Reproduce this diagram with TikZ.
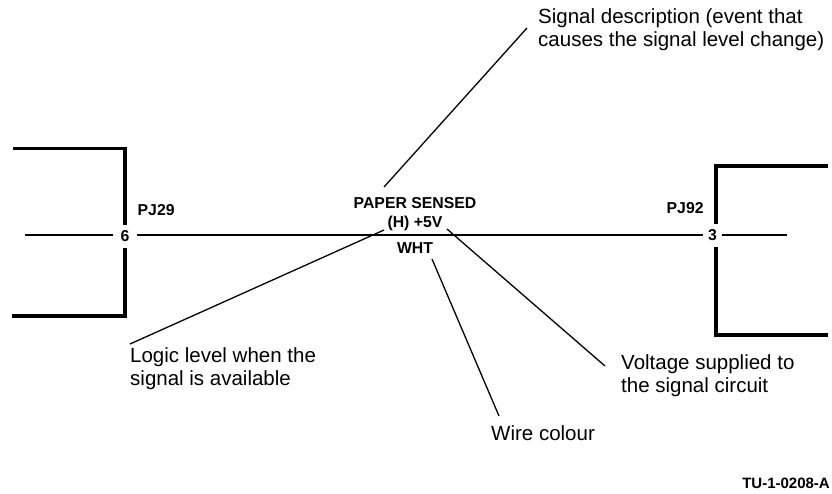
\documentclass[tikz,border=0pt]{standalone}
\usepackage{fontspec}
\setmainfont{Liberation Sans}
\tikzset{
  housing/.style={line width=3.4pt},
  wire/.style={line width=1.3pt},
  leader/.style={line width=1.3pt},
  callout/.style={anchor=west, inner sep=0pt, align=left, font=\fontsize{20.5}{23}\selectfont},
  pinlabel/.style={inner sep=0pt, font=\fontsize{15.8}{18}\selectfont\bfseries},
  pinnum/.style={pinlabel, fill=white, minimum height=23pt},
}
\begin{document}
\begin{tikzpicture}[x=1pt,y=-1pt]
  \useasboundingbox (0,0) rectangle (832,493);
  % connector housings
  \draw[housing] (13,148.5) -- (125,148.5) -- (125,316) -- (12,316);
  \draw[housing] (828,166) -- (716,166) -- (716,335) -- (828,335);
  % pin numbers sit on the housings
  \node[pinnum, minimum width=24pt] (pinsix) at (125,236) {6};
  \node[pinnum, minimum width=19pt] (pinthree) at (712.5,235) {3};
  \coordinate (wireleft) at (25,235);
  \coordinate (wireright) at (787,235);
  \draw[wire] (wireleft) -- (wireleft -| pinsix.west);
  \draw[wire] (pinsix.east |- wireleft) -- (pinthree.west |- wireleft);
  \draw[wire] (pinthree.east |- wireright) -- (wireright);
  \node[pinlabel, anchor=west] (plugleft) at (137.5,210) {PJ29};
  \node[pinlabel, anchor=west] (plugright) at (666.5,208) {PJ92};
  % labels on the wire
  \node[pinlabel] (sensed) at (415,203) {PAPER SENSED};
  \node[pinlabel] (level) at (415,223) {(H) +5V};
  \node[pinlabel] (colour) at (415,248) {WHT};
  % callouts
  \node[callout] (descr) at (538,30) {Signal description (event that\\causes the signal level change)};
  \node[callout] (logic) at (130,369) {Logic level when the\\signal is available};
  \node[callout] (volt) at (621,376) {Voltage supplied to\\the signal circuit};
  \node[callout] (wirecol) at (491,433) {Wire colour};
  \node[pinlabel, anchor=east, font=\fontsize{15}{17}\selectfont\bfseries] (tucode) at (830,483) {TU-1-0208-A};
  \coordinate (descrend) at (527,28);
  \coordinate (descrtip) at (384,187);
  \coordinate (logicend) at (130,344);
  \coordinate (logictip) at (384,230);
  \coordinate (voltend) at (605,366);
  \coordinate (volttip) at (447,229);
  \coordinate (colend) at (499,416);
  \coordinate (coltip) at (432,259);
  \draw[leader] (descrend) -- (descrtip);
  \draw[leader] (logicend) -- (logictip);
  \draw[leader] (voltend) -- (volttip);
  \draw[leader] (colend) -- (coltip);
\end{tikzpicture}
\end{document}
